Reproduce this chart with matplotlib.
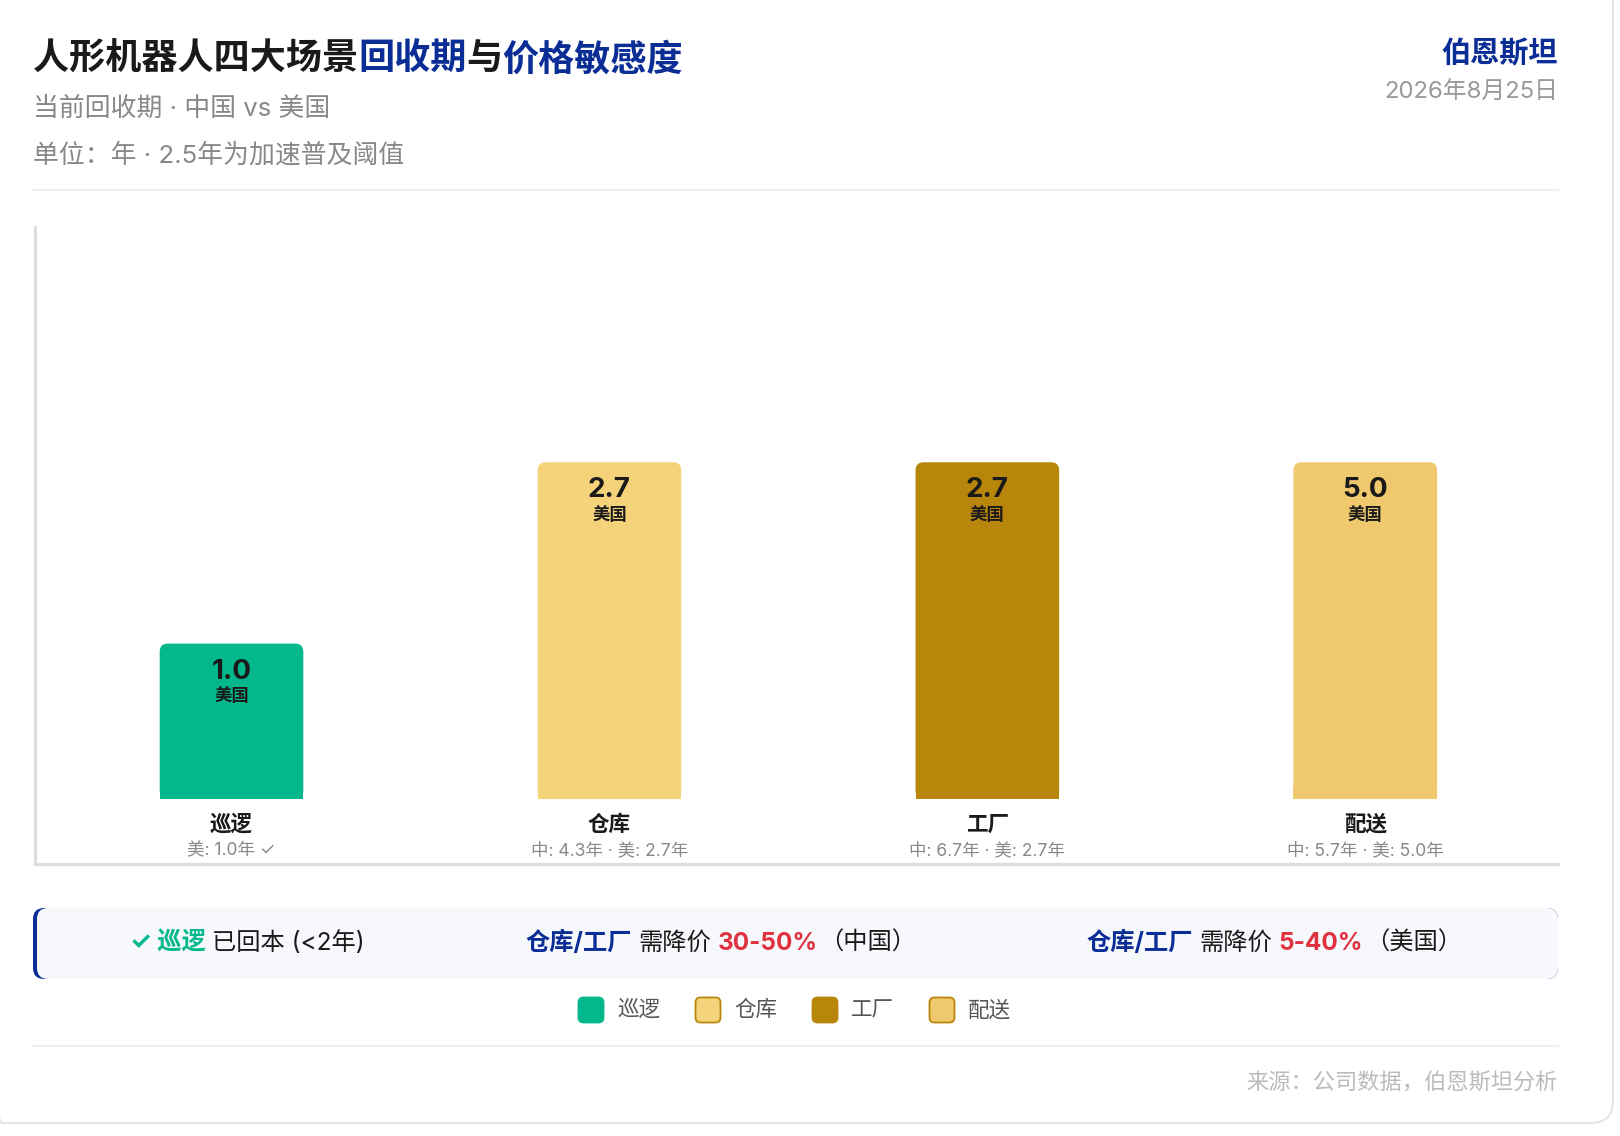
import matplotlib
matplotlib.use("Agg")  # headless

import numpy as np
import matplotlib.pyplot as plt
from matplotlib.patches import FancyBboxPatch, Rectangle
from matplotlib.transforms import IdentityTransform

# latin glyphs from Inter, chinese falls back to Noto CJK
plt.rcParams["font.family"] = ["Inter", "Noto Sans CJK SC", "DejaVu Sans"]

W, H = 1620, 1136

# ---- data ----
scenarios = ["巡逻", "仓库", "工厂", "配送"]
china_years = [None, 4.3, 6.7, 5.7]
us_years = [1.0, 2.7, 2.7, 5.0]
bar_cap = 2.17  # tall bars are clipped at this height in the original
bar_colors = ["#02b88c", "#f5d37b", "#b8860b", "#f0c96e"]
legend_edges = ["#02b88c", "#b8860b", "#b8860b", "#b8860b"]

NAVY = "#0a2d96"
DARK = "#1a1a1a"
GREY = "#888888"
RED = "#e0313f"


def fy(y):
    """pixel from top -> figure fraction"""
    return 1 - y / H


def rich_text(fig, parts, x, y, ha="left", size=16):
    # parts: (text, color, weight, gap in px after)
    r = fig.canvas.get_renderer()
    texts, widths = [], []
    for s, color, weight, gap in parts:
        t = fig.text(0, fy(y), s, color=color, fontsize=size,
                     fontweight=weight, va="center", ha="left")
        texts.append(t)
        widths.append(t.get_window_extent(r).width + gap)
    total = sum(widths) - parts[-1][3]
    x0 = {"left": x, "center": x - total / 2, "right": x - total}[ha]
    for t, w in zip(texts, widths):
        t.set_x(x0 / W)
        x0 += w


fig = plt.figure(figsize=(W / 100, H / 100), dpi=100)

# card outline
fig.patches.append(FancyBboxPatch((-20, H - 1123), 1633, 1143,
                                  boxstyle="round,pad=0,rounding_size=22",
                                  transform=IdentityTransform(),
                                  facecolor="none", edgecolor="#e6e6e6", lw=1.5))

# ---- header ----
rich_text(fig, [("人形机器人四大场景", DARK, "bold", 0),
                ("回收期", NAVY, "bold", 0),
                ("与", DARK, "bold", 0),
                ("价格敏感度", NAVY, "bold", 0)], 33, 60, size=26)
fig.text(33 / W, fy(109), "当前回收期 · 中国 vs 美国", color=GREY, fontsize=18.6, va="center")
fig.text(33 / W, fy(155), "单位：年 · 2.5年为加速普及阈值", color=GREY, fontsize=18.6, va="center")
fig.text(1558 / W, fy(54), "伯恩斯坦", color=NAVY, fontsize=21, fontweight="bold",
         ha="right", va="center")
fig.text(1558 / W, fy(93), "2026年8月25日", color="#999999", fontsize=17.2,
         ha="right", va="center")
fig.add_artist(plt.Line2D([33 / W, 1558 / W], [fy(190), fy(190)], color="#eeeeee", lw=1.5))

# ---- bar chart ----
ax = fig.add_axes([35 / W, fy(864), (1558 - 35) / W, (864 - 227) / H])
ax.set_xlim(-0.52, 3.51)
ax.set_ylim(-0.422, 3.688)
for side in ["top", "right"]:
    ax.spines[side].set_visible(False)
for side in ["left", "bottom"]:
    ax.spines[side].set_color("#dddddd")
    ax.spines[side].set_linewidth(2.3)
ax.set_xticks([])
ax.set_yticks([])

x = np.arange(len(scenarios))
heights = np.minimum(us_years, bar_cap)
bars = ax.bar(x, heights, width=0.38, color=bar_colors)

# rounded tops: rounded box + small square block hiding the bottom corners
rx = 8 / 377.3
aspect = (8 / 155) / rx
for b in bars:
    b.set_visible(False)
    bx, bw, bh = b.get_x(), b.get_width(), b.get_height()
    fc = b.get_facecolor()
    ax.add_patch(FancyBboxPatch((bx, 0), bw, bh,
                                boxstyle=f"round,pad=0,rounding_size={rx}",
                                mutation_aspect=aspect, facecolor=fc,
                                edgecolor="none", lw=0))
    ax.add_patch(Rectangle((bx, 0), bw, 0.08, facecolor=fc, edgecolor="none", lw=0))

for i, (name, cn, us, h) in enumerate(zip(scenarios, china_years, us_years, heights)):
    ax.annotate(f"{us:.1f}", xy=(i, h), xytext=(0, -28 * 0.72), textcoords="offset points",
                ha="center", va="center", fontsize=20, fontweight="bold", color=DARK)
    ax.annotate("美国", xy=(i, h), xytext=(0, -53 * 0.72), textcoords="offset points",
                ha="center", va="center", fontsize=12.5, fontweight="bold", color=DARK)
    ax.annotate(name, xy=(i, 0), xytext=(0, -26 * 0.72), textcoords="offset points",
                ha="center", va="center", fontsize=15.5, fontweight="bold", color=DARK)
    if cn is None:
        sub = f"美: {us:.1f}年 ✓"
    else:
        sub = f"中: {cn:.1f}年 · 美: {us:.1f}年"
    ax.annotate(sub, xy=(i, 0), xytext=(0, -52 * 0.72), textcoords="offset points",
                ha="center", va="center", fontsize=12.6, color=GREY)

# ---- note box ----
fig.patches.append(FancyBboxPatch((33, H - 979), 1525, 71,
                                  boxstyle="round,pad=0,rounding_size=11",
                                  transform=IdentityTransform(),
                                  facecolor=NAVY, edgecolor="none"))
fig.patches.append(FancyBboxPatch((37, H - 979), 1521, 71,
                                  boxstyle="round,pad=0,rounding_size=11",
                                  transform=IdentityTransform(),
                                  facecolor="#f6f8fc", edgecolor="none"))
rich_text(fig, [("✓ 巡逻", bar_colors[0], "bold", 6),
                ("已回本 (<2年)", DARK, "normal", 0)], 247, 943, ha="center", size=17.5)
rich_text(fig, [("仓库/工厂", NAVY, "bold", 7),
                ("需降价", DARK, "normal", 6),
                ("30-50%", RED, "bold", 2),
                ("（中国）", DARK, "normal", 0)], 721, 943, ha="center", size=17.5)
rich_text(fig, [("仓库/工厂", NAVY, "bold", 7),
                ("需降价", DARK, "normal", 6),
                ("5-40%", RED, "bold", 2),
                ("（美国）", DARK, "normal", 0)], 1274, 943, ha="center", size=17.5)

# ---- legend ----
for i, (name, fc, ec) in enumerate(zip(scenarios, bar_colors, legend_edges)):
    cx = 591 + 117 * i
    fig.patches.append(FancyBboxPatch((cx - 12.5, H - 1010 - 12.5), 25, 25,
                                      boxstyle="round,pad=0,rounding_size=5",
                                      transform=IdentityTransform(),
                                      facecolor=fc, edgecolor=ec, lw=1.3))
    fig.text((cx + 26) / W, fy(1010), name, color="#555555", fontsize=15.5, va="center")

# ---- footer ----
fig.add_artist(plt.Line2D([33 / W, 1558 / W], [fy(1046), fy(1046)], color="#eeeeee", lw=1.5))
fig.text(1558 / W, fy(1083), "来源：公司数据，伯恩斯坦分析", color="#bbbbbb", fontsize=16,
         ha="right", va="center")

fig.savefig("out.png", dpi=100, facecolor="white")
